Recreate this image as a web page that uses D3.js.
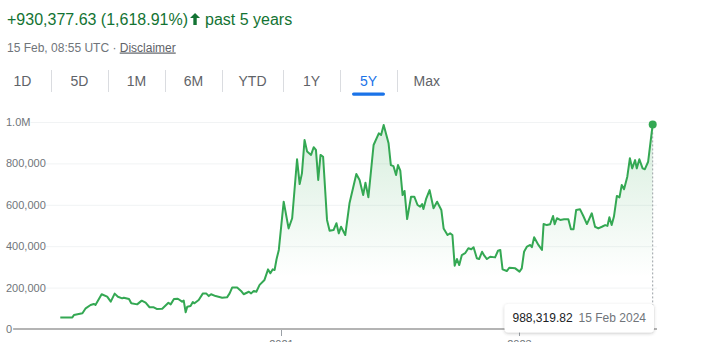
<!DOCTYPE html>
<html>
<head>
<meta charset="UTF-8" />
<title>Past 5 years</title>
<script src="https://d3js.org/d3.v7.min.js"></script>
<style>
  body { margin: 0; background: #fff; }
  svg { display: block; font-family: Arial, "Liberation Sans", sans-serif; }
</style>
</head>
<body>
<svg id="chart" width="706" height="342"></svg>
<script>
// weekly-ish closes
const dates = [
  "2019-02-22","2019-03-31","2019-04-05","2019-05-01","2019-05-11","2019-05-26","2019-06-05","2019-06-10",
  "2019-06-29","2019-07-16","2019-07-27","2019-08-08","2019-08-18","2019-08-31","2019-09-05","2019-09-21",
  "2019-09-28","2019-10-16","2019-10-30","2019-11-11","2019-11-23","2019-12-06","2019-12-15","2020-01-01",
  "2020-01-20","2020-01-27","2020-02-06","2020-02-18","2020-03-02","2020-03-07","2020-03-13","2020-03-18",
  "2020-03-28","2020-04-04","2020-04-09","2020-04-22","2020-05-05","2020-05-15","2020-05-23","2020-05-30",
  "2020-06-13","2020-07-03","2020-07-18","2020-07-26","2020-08-03","2020-08-18","2020-08-30","2020-09-07",
  "2020-09-23","2020-09-30","2020-10-08","2020-10-16","2020-10-26","2020-11-10","2020-11-21","2020-11-28",
  "2020-12-05","2020-12-11","2020-12-17","2020-12-24","2021-01-08","2021-01-23","2021-02-03","2021-02-18",
  "2021-02-26","2021-03-05","2021-03-13","2021-03-21","2021-04-02","2021-04-10","2021-04-17","2021-04-24",
  "2021-05-01","2021-05-09","2021-05-21","2021-05-29","2021-06-10","2021-06-19","2021-06-26","2021-07-03",
  "2021-07-16","2021-07-29","2021-08-19","2021-08-29","2021-09-09","2021-09-16","2021-09-25","2021-10-11",
  "2021-10-27","2021-11-03","2021-11-11","2021-11-26","2021-12-03","2021-12-11","2021-12-19","2021-12-25",
  "2022-01-01","2022-01-08","2022-01-14","2022-01-22","2022-02-03","2022-02-13","2022-02-23","2022-03-03",
  "2022-03-09","2022-03-13","2022-03-21","2022-04-01","2022-04-13","2022-04-24","2022-05-07","2022-05-14",
  "2022-05-26","2022-06-03","2022-06-10","2022-06-17","2022-06-24","2022-07-01","2022-07-09","2022-07-19",
  "2022-07-29","2022-08-07","2022-08-14","2022-08-24","2022-08-31","2022-09-09","2022-09-16","2022-09-24",
  "2022-10-04","2022-10-19","2022-10-28","2022-11-04","2022-11-11","2022-11-24","2022-12-02","2022-12-20",
  "2023-01-02","2023-01-09","2023-01-16","2023-01-25","2023-02-04","2023-02-09","2023-02-16","2023-03-01",
  "2023-03-12","2023-03-17","2023-03-27","2023-04-06","2023-04-15","2023-04-20","2023-04-27","2023-05-07",
  "2023-05-19","2023-06-01","2023-06-09","2023-06-17","2023-06-25","2023-07-07","2023-07-17","2023-07-28",
  "2023-08-12","2023-08-22","2023-09-01","2023-09-12","2023-09-22","2023-09-29","2023-10-05","2023-10-12",
  "2023-10-19","2023-10-28","2023-11-05","2023-11-12","2023-11-19","2023-11-29","2023-12-07","2023-12-14",
  "2023-12-23","2023-12-28","2024-01-05","2024-01-15","2024-01-22","2024-02-01","2024-02-15"
];
const values = [
  55000, 56000, 68000, 76000, 100000, 116000, 121000, 116000,
  168000, 156000, 132000, 171000, 156000, 148000, 151000, 145000,
  124000, 119000, 137000, 127000, 105000, 105000, 97000, 98000,
  127000, 119000, 145000, 146000, 132000, 137000, 81000, 108000,
  111000, 130000, 124000, 140000, 172000, 172000, 159000, 168000,
  159000, 151000, 153000, 172000, 201000, 200000, 184000, 168000,
  180000, 172000, 184000, 180000, 213000, 237000, 288000, 269000,
  288000, 285000, 337000, 382000, 615000, 486000, 535000, 820000,
  700000, 752000, 913000, 857000, 841000, 878000, 865000, 720000,
  841000, 832000, 527000, 475000, 478000, 511000, 462000, 494000,
  454000, 607000, 749000, 720000, 647000, 707000, 636000, 889000,
  945000, 937000, 986000, 897000, 792000, 787000, 744000, 792000,
  765000, 647000, 667000, 531000, 639000, 639000, 599000, 591000,
  604000, 580000, 627000, 671000, 583000, 615000, 575000, 486000,
  454000, 462000, 454000, 306000, 338000, 309000, 357000, 366000,
  390000, 385000, 395000, 342000, 338000, 373000, 354000, 338000,
  349000, 346000, 378000, 382000, 288000, 280000, 296000, 293000,
  277000, 293000, 373000, 398000, 406000, 395000, 443000, 406000,
  382000, 507000, 502000, 506000, 546000, 506000, 535000, 527000,
  530000, 530000, 482000, 482000, 575000, 578000, 546000, 507000,
  559000, 494000, 486000, 494000, 502000, 498000, 540000, 502000,
  543000, 643000, 636000, 696000, 675000, 736000, 825000, 776000,
  816000, 776000, 820000, 776000, 772000, 808000, 988319.82
];

const yTicks = [0, 200000, 400000, 600000, 800000, 1000000];
const yTickLabels = ["0", "200,000", "400,000", "600,000", "800,000", "1.0M"];
const xTicks = ["2021-01-01", "2023-01-01"];
const xTickLabels = ["2021", "2023"];
const tabs = ["1D", "5D", "1M", "6M", "YTD", "1Y", "5Y", "Max"];
const activeTab = "5Y";

const changeText = "+930,377.63 (1,618.91%)";
const periodText = "past 5 years";
const stampText = "15 Feb, 08:55 UTC · ";
const linkText = "Disclaimer";
const tipValue = "988,319.82";
const tipDate = "15 Feb 2024";

const green = "#34a853";
const headGreen = "#137333";
const grey = "#70757a";

const parse = d3.timeParse("%Y-%m-%d");
const data = dates.map((d, i) => ({ date: parse(d), value: values[i] }));

const svg = d3.select("#chart");

// ---- header ----
const head = svg.append("text")
  .attr("x", 7).attr("y", 25)
  .attr("font-size", 16).attr("fill", headGreen)
  .text(changeText);
const headW = head.node().getComputedTextLength();

// up arrow
const ax = 7 + headW + 7;
svg.append("path")
  .attr("d", `M${ax},13 l-5,5 h3.3 v7 h3.4 v-7 h3.3 z`)
  .attr("fill", headGreen);

svg.append("text")
  .attr("x", ax + 10).attr("y", 25)
  .attr("font-size", 16).attr("fill", headGreen)
  .text(periodText);

const stamp = svg.append("text")
  .attr("x", 7).attr("y", 51.5)
  .attr("font-size", 12).attr("fill", grey)
  .attr("xml:space", "preserve");
stamp.append("tspan").text(stampText);
stamp.append("tspan")
  .attr("fill", "#5f6368")
  .attr("text-decoration", "underline")
  .text(linkText);

// ---- range tabs ----
let tx = -6;
tabs.forEach((t, i) => {
  const probe = svg.append("text").attr("font-size", 14).text(t);
  const w = Math.max(57, probe.node().getComputedTextLength() + 33);
  probe.remove();
  const cx = tx + w / 2;
  const on = t === activeTab;
  svg.append("text")
    .attr("x", cx).attr("y", 85.5)
    .attr("text-anchor", "middle")
    .attr("font-size", 14)
    .attr("fill", on ? "#1a73e8" : "#5f6368")
    .text(t);
  if (on) {
    svg.append("rect")
      .attr("x", cx - 16.5).attr("y", 92.5)
      .attr("width", 33).attr("height", 3.2)
      .attr("rx", 1.6)
      .attr("fill", "#1a73e8");
  }
  tx += w;
  if (i < tabs.length - 1) {
    svg.append("line")
      .attr("x1", tx + 0.5).attr("x2", tx + 0.5)
      .attr("y1", 70).attr("y2", 92)
      .attr("stroke", "#dadce0");
  }
});

// ---- chart ----
const x = d3.scaleTime()
  .domain([parse("2019-02-15"), parse("2024-02-15")])
  .range([58, 652.7]);
const y = d3.scaleLinear()
  .domain([0, 1000000])
  .range([329, 122]);
const right = 657;

// grid + labels
yTicks.forEach((v, i) => {
  const yy = y(v);
  const lab = svg.append("text")
    .attr("x", 6).attr("y", yy + 4)
    .attr("font-size", 11).attr("fill", grey)
    .text(yTickLabels[i]);
  const lw = lab.node().getComputedTextLength();
  if (v === 0) {
    svg.append("line")
      .attr("x1", 6 + lw + 1).attr("x2", right)
      .attr("y1", yy).attr("y2", yy)
      .attr("stroke", "#b4b4b4").attr("stroke-width", 2)
      .attr("class", "baseline");
  } else {
    svg.insert("line", "text")
      .attr("x1", 6 + lw).attr("x2", right)
      .attr("y1", yy + 0.5).attr("y2", yy + 0.5)
      .attr("stroke", "#f1f3f4");
  }
});

// gradient under the line
const defs = svg.append("defs");
const grad = defs.append("linearGradient")
  .attr("id", "fade")
  .attr("gradientUnits", "userSpaceOnUse")
  .attr("x1", 0).attr("x2", 0)
  .attr("y1", y(1000000)).attr("y2", y(0));
grad.append("stop").attr("offset", "0%").attr("stop-color", green).attr("stop-opacity", 0.2);
grad.append("stop").attr("offset", "75%").attr("stop-color", green).attr("stop-opacity", 0);

const shadow = defs.append("filter")
  .attr("id", "shadow")
  .attr("x", "-10%").attr("y", "-30%")
  .attr("width", "120%").attr("height", "170%");
shadow.append("feDropShadow")
  .attr("dx", 0).attr("dy", 1)
  .attr("stdDeviation", 1.5)
  .attr("flood-color", "#3c4043")
  .attr("flood-opacity", 0.3);

svg.insert("path", ".baseline")
  .datum(data)
  .attr("fill", "url(#fade)")
  .attr("d", d3.area().x(d => x(d.date)).y0(y(0)).y1(d => y(d.value)));

// x ticks (labels sit partly below the frame, as in the original)
xTicks.forEach((t, i) => {
  const xx = Math.round(x(parse(t))) + 0.5;
  svg.append("line")
    .attr("x1", xx).attr("x2", xx)
    .attr("y1", 330).attr("y2", 336)
    .attr("stroke", "#9aa0a6");
  svg.append("text")
    .attr("x", xx).attr("y", 348)
    .attr("text-anchor", "middle")
    .attr("font-size", 11).attr("fill", grey)
    .text(xTickLabels[i]);
});

const last = data[data.length - 1];

// hover guide
svg.append("line")
  .attr("x1", x(last.date)).attr("x2", x(last.date))
  .attr("y1", y(last.value)).attr("y2", y(0))
  .attr("stroke", "#9aa0a6")
  .attr("stroke-dasharray", "2,2");

svg.append("path")
  .datum(data)
  .attr("fill", "none")
  .attr("stroke", green)
  .attr("stroke-width", 2)
  .attr("stroke-linejoin", "round")
  .attr("d", d3.line().x(d => x(d.date)).y(d => y(d.value)));

svg.append("circle")
  .attr("cx", x(last.date)).attr("cy", y(last.value))
  .attr("r", 4)
  .attr("fill", green);

// tooltip
const tip = svg.append("g");
tip.append("rect")
  .attr("x", 504.5).attr("y", 304)
  .attr("width", 149.5).attr("height", 28.5)
  .attr("rx", 4)
  .attr("fill", "#fff")
  .attr("filter", "url(#shadow)");
tip.append("text")
  .attr("x", 512.5).attr("y", 322)
  .attr("font-size", 12).attr("fill", "#202124")
  .text(tipValue);
tip.append("text")
  .attr("x", 646).attr("y", 322)
  .attr("text-anchor", "end")
  .attr("font-size", 12).attr("fill", grey)
  .text(tipDate);
</script>
</body>
</html>
